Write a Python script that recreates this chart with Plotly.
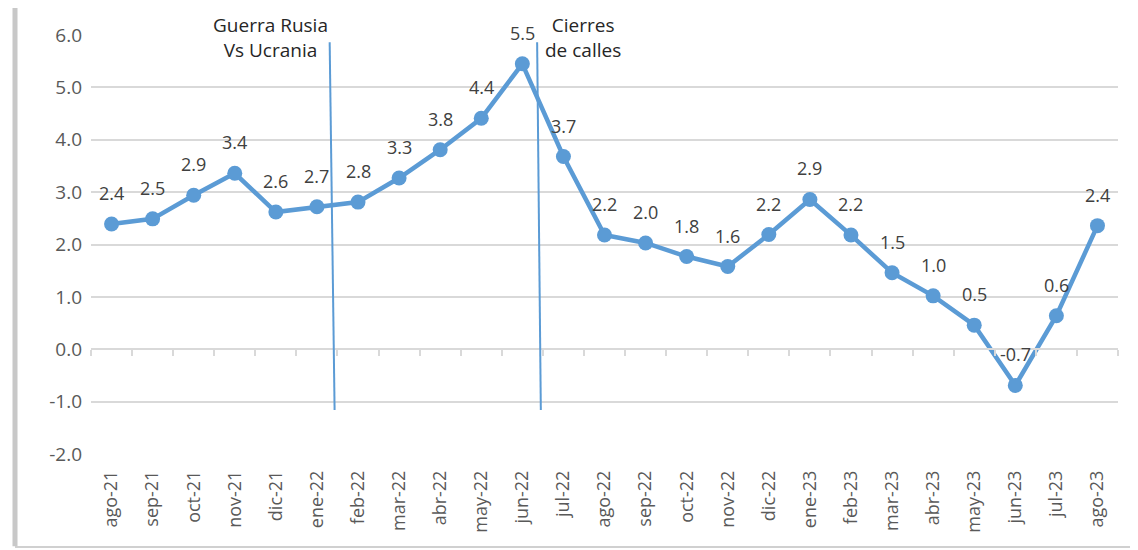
import plotly.graph_objects as go

# monthly series (ago-21 .. ago-23)
months = ["ago-21", "sep-21", "oct-21", "nov-21", "dic-21", "ene-22", "feb-22",
          "mar-22", "abr-22", "may-22", "jun-22", "jul-22", "ago-22", "sep-22",
          "oct-22", "nov-22", "dic-22", "ene-23", "feb-23", "mar-23", "abr-23",
          "may-23", "jun-23", "jul-23", "ago-23"]
values = [2.39, 2.49, 2.94, 3.36, 2.62, 2.72, 2.81, 3.27, 3.81, 4.41, 5.45, 3.68,
          2.18, 2.03, 1.77, 1.58, 2.19, 2.86, 2.18, 1.46, 1.02, 0.46, -0.69, 0.64,
          2.36]
labels = ["2.4", "2.5", "2.9", "3.4", "2.6", "2.7", "2.8", "3.3", "3.8", "4.4",
          "5.5", "3.7", "2.2", "2.0", "1.8", "1.6", "2.2", "2.9", "2.2", "1.5",
          "1.0", "0.5", "-0.7", "0.6", "2.4"]
y_ticks = [-2, -1, 0, 1, 2, 3, 4, 5, 6]
y_ticktext = ["-2.0", "-1.0", "0.0", "1.0", "2.0", "3.0", "4.0", "5.0", "6.0"]

# event markers: (x start, x end) in category units, y top/bottom, text
events = [
    {"x0": 5.31, "x1": 5.43, "text": "Guerra Rusia<br>Vs Ucrania", "tx": 3.87},
    {"x0": 10.36, "x1": 10.45, "text": "Cierres<br>de calles", "tx": 11.48},
]
event_top, event_bottom = 5.86, -1.16

BLUE = "#5b9bd5"
FONT = "Open Sans"
xs = list(range(len(months)))

fig = go.Figure()
fig.add_trace(go.Scatter(
    x=xs, y=values,
    mode="lines+markers",
    line=dict(color=BLUE, width=4.5),
    marker=dict(color=BLUE, size=15),
    cliponaxis=False,
    showlegend=False,
))

# data labels above each point
for x, y, lab in zip(xs, values, labels):
    fig.add_annotation(x=x, y=y, text=lab, showarrow=False,
                       yanchor="middle", yshift=31,
                       font=dict(family=FONT, size=18, color="#404040"))

# dummy trace on xaxis2 so the zero-line axis with ticks is drawn
fig.add_trace(go.Scatter(x=xs, y=values, xaxis="x2",
                         mode="none", showlegend=False, hoverinfo="skip"))

for ev in events:
    fig.add_shape(type="line", xref="x", yref="y",
                  x0=ev["x0"], x1=ev["x1"], y0=event_top, y1=event_bottom,
                  line=dict(color=BLUE, width=2))
    fig.add_annotation(x=ev["tx"], y=1.0, xref="x", yref="paper",
                       yanchor="middle", yshift=-2,
                       text=ev["text"], showarrow=False, align="center",
                       font=dict(family=FONT, size=19, color="#262626"))

# chart frame
fig.add_shape(type="rect", xref="paper", yref="paper",
              x0=-0.073, x1=1.017, y0=-0.222, y1=1.07,
              line=dict(color="#d0d0d0", width=2), layer="below")
fig.add_shape(type="line", xref="paper", yref="paper",
              x0=-0.074, x1=-0.074, y0=-0.22, y1=1.065,
              line=dict(color="#c8c8c8", width=5), layer="below")

fig.update_layout(
    width=1138, height=550,
    margin=dict(l=83, r=28, t=27, b=104),
    paper_bgcolor="white", plot_bgcolor="white",
    font=dict(family=FONT),
    xaxis=dict(
        range=[-0.5, len(months) - 0.5],
        tickmode="array", tickvals=xs, ticktext=months,
        tickangle=-90, showgrid=False, zeroline=False, ticks="",
        tickfont=dict(family=FONT, size=18, color="#595959"),
        ticklabelstandoff=12,
        showline=False,
    ),
    xaxis2=dict(
        overlaying="x", anchor="free", position=0.25,
        range=[-0.5, len(months) - 0.5],
        tickmode="linear", tick0=-0.5, dtick=1,
        ticks="outside", ticklen=6, tickcolor="#d9d9d9", tickwidth=2,
        showticklabels=False, showgrid=False, zeroline=False,
        showline=True, linecolor="#d9d9d9", linewidth=2,
    ),
    yaxis=dict(
        range=[-2, 6], tickmode="array", tickvals=y_ticks, ticktext=y_ticktext,
        showgrid=True, gridcolor="#d9d9d9", gridwidth=2,
        zeroline=False, showline=False, ticks="",
        tickfont=dict(family=FONT, size=19, color="#595959"),
        ticklabelstandoff=8,
    ),
)

fig.write_html("out.html")
